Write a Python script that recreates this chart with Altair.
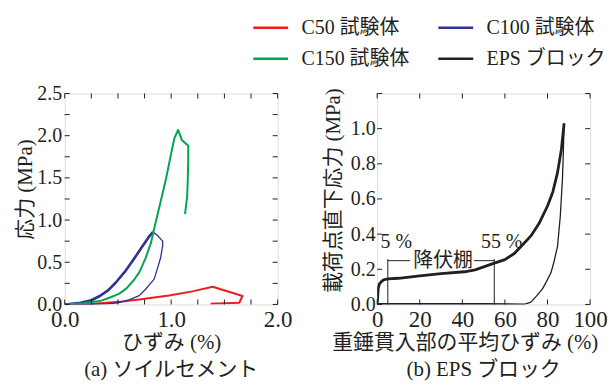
import altair as alt
import pandas as pd

FONT = "Liberation Serif, Noto Sans CJK JP"
INK = "#231f20"

series_names = ["C50 試験体", "C100 試験体", "C150 試験体", "EPS ブロック"]
series_colors = ["#ed1c24", "#2e3192", "#00a651", "#231f20"]
# legend fills column by column: C50, C150 | C100, EPS
legend_order = [0, 2, 1, 3]

# (a) soil cement, strain (%) vs stress (MPa)
c50_x = [0.0, 0.25, 0.54, 0.70, 0.98, 1.20, 1.39, 1.67, 1.64, 1.37]
c50_y = [0.0, 0.005, 0.035, 0.06, 0.105, 0.155, 0.21, 0.10, 0.02, 0.007]

c100_load_x = [0.0, 0.15, 0.25, 0.33, 0.41, 0.48, 0.56, 0.64, 0.73, 0.79, 0.83]
c100_load_y = [0.0, 0.02, 0.05, 0.10, 0.17, 0.26, 0.38, 0.52, 0.69, 0.80, 0.86]
c100_unl_x = [0.83, 0.87, 0.92, 0.92, 0.90, 0.86, 0.84, 0.80, 0.76, 0.70, 0.61, 0.50, 0.39, 0.25, 0.10]
c100_unl_y = [0.86, 0.82, 0.75, 0.69, 0.55, 0.38, 0.30, 0.24, 0.18, 0.105, 0.058, 0.02, 0.007, 0.002, 0.0]

c150_x = [0.0, 0.17, 0.33, 0.42, 0.51, 0.58, 0.65, 0.70, 0.76, 0.81, 0.85, 0.89, 0.95,
          1.00, 1.03, 1.065, 1.10, 1.16, 1.16, 1.155, 1.15, 1.13]
c150_y = [0.0, 0.015, 0.04, 0.08, 0.125, 0.19, 0.29, 0.38, 0.55, 0.73, 0.95, 1.16, 1.48,
          1.79, 1.97, 2.07, 1.95, 1.88, 1.71, 1.45, 1.28, 1.07]

# (b) EPS block, mean strain of penetrated part (%) vs stress under loading point (MPa)
eps_load_x = [0.0, 0.5, 1.0, 2.0, 3.0, 5.0, 10.0, 20.0, 30.0, 41.0, 46.0, 50.4, 55.0, 60.0,
              64.4, 68.0, 72.2, 76.0, 80.0, 82.5, 84.7, 86.5, 87.8]
eps_load_y = [0.0, 0.09, 0.115, 0.13, 0.14, 0.145, 0.149, 0.163, 0.175, 0.186, 0.197, 0.215,
              0.235, 0.255, 0.29, 0.335, 0.39, 0.46, 0.56, 0.64, 0.75, 0.88, 1.03]
eps_unl_x = [87.8, 87.4, 87.0, 86.0, 84.7, 83.0, 81.6, 79.5, 77.7, 75.0, 72.2, 69.0]
eps_unl_y = [1.03, 0.85, 0.71, 0.50, 0.33, 0.24, 0.18, 0.13, 0.09, 0.05, 0.013, 0.0]
eps_base_x = [69.0, 50.0, 30.0, 10.0, 0.0]
eps_base_y = [0.0, 0.003, 0.003, 0.003, 0.002]

# annotation values (b)
mark_x = [5, 55]
mark_top = 0.258
plateau_y = 0.249
plateau_seg_x = [5, 45.5]
plateau_seg_x2 = [15.5, 55]
ann_text = ["降伏棚", "5 %", "55 %"]
ann_x = [31.0, 9.0, 58.5]
ann_y = [0.249, 0.354, 0.354]

# tick values
a_xticks = [0.25 * i for i in range(9)]
a_yticks = [0.25 * i for i in range(11)]
b_xticks = [20 * i for i in range(6)]
b_yticks = [0.2 * i for i in range(7)]

W, H = 214, 212
TL = 5


def seg(series, part, xs, ys, w):
    return [{"series": series, "part": part, "x": x, "y": y, "i": i, "w": w}
            for i, (x, y) in enumerate(zip(xs, ys))]


color = alt.Color(
    "series:N",
    scale=alt.Scale(domain=[series_names[k] for k in legend_order],
                    range=[series_colors[k] for k in legend_order]),
    legend=alt.Legend(
        orient="none", legendX=188, legendY=-85, columns=2, title=None,
        symbolType="stroke", symbolSize=1225, symbolStrokeWidth=2.5,
        labelFont=FONT, labelFontSize=20, labelColor=INK, labelOffset=12,
        columnPadding=23, rowPadding=2, labelLimit=300,
    ),
)


def axis(values, expr, title, lsize, lpad, tpad, tx=None, ty=None):
    kw = dict(
        values=values, labelExpr=expr, ticks=False, domain=False, grid=False,
        labelFont="Liberation Serif", labelFontSize=lsize, labelColor=INK, labelPadding=lpad,
        labelFlush=False, labelOverlap=False,
        title=title, titleFont=FONT, titleFontSize=21, titleFontWeight="normal",
        titleColor=INK, titlePadding=tpad,
    )
    if tx is not None:
        kw["titleX"] = tx
    if ty is not None:
        kw["titleY"] = ty
    return alt.Axis(**kw)


def ticks(xvals, yvals, xs, ys, xax, yax):
    dx = pd.DataFrame({"v": xvals})
    dy = pd.DataFrame({"v": yvals})
    bx = alt.X("v:Q", scale=xs, axis=xax)
    by = alt.Y("v:Q", scale=ys, axis=yax)
    r = dict(color=INK, strokeWidth=1)
    return [
        alt.Chart(dx).mark_rule(**r).encode(x=bx, y=alt.value(H), y2=alt.value(H - TL)),
        alt.Chart(dx).mark_rule(**r).encode(x=bx, y=alt.value(0), y2=alt.value(TL)),
        alt.Chart(dy).mark_rule(**r).encode(y=by, x=alt.value(0), x2=alt.value(TL)),
        alt.Chart(dy).mark_rule(**r).encode(y=by, x=alt.value(W), x2=alt.value(W - TL)),
    ]


def caption(text):
    return alt.TitleParams(text, orient="bottom", font=FONT, fontSize=21,
                           fontWeight="normal", color=INK, offset=7)


# ---- panel (a)
a_df = pd.DataFrame(
    seg(series_names[0], "c50", c50_x, c50_y, 2.0)
    + seg(series_names[1], "c100a", c100_load_x, c100_load_y, 2.6)
    + seg(series_names[1], "c100b", c100_unl_x, c100_unl_y, 1.3)
    + seg(series_names[2], "c150", c150_x, c150_y, 2.0)
)
ax_s = alt.Scale(domain=[0, 2], nice=False, zero=False)
ay_s = alt.Scale(domain=[0, 2.5], nice=False, zero=False)
a_xax = axis(a_xticks, "datum.value % 1 == 0 ? format(datum.value, '.1f') : ''",
             "ひずみ (%)", 23, 4, 0)
a_yax = axis(a_yticks, "datum.value % 0.5 == 0 ? format(datum.value, '.1f') : ''",
             "応力 (MPa)", 20, 3, 1, None, 96)
a_lines = alt.Chart(a_df).mark_line(strokeJoin="round", clip=True).encode(
    x=alt.X("x:Q", scale=ax_s, axis=a_xax),
    y=alt.Y("y:Q", scale=ay_s, axis=a_yax),
    color=color, detail="part:N", order="i:Q",
    strokeWidth=alt.StrokeWidth("w:Q", scale=None),
)
panel_a = alt.layer(a_lines, *ticks(a_xticks, a_yticks, ax_s, ay_s, a_xax, a_yax)).properties(
    width=W, height=H, title=caption("(a) ソイルセメント"),
)

# ---- panel (b)
b_df = pd.DataFrame(
    seg(series_names[3], "load", eps_load_x, eps_load_y, 2.8)
    + seg(series_names[3], "unl", eps_unl_x, eps_unl_y, 1.3)
    + seg(series_names[3], "base", eps_base_x, eps_base_y, 2.0)
)
bx_s = alt.Scale(domain=[0, 100], nice=False, zero=False)
by_s = alt.Scale(domain=[0, 1.2], nice=False, zero=False)
b_xax = axis(b_xticks, "format(datum.value, 'd')", "重錘貫入部の平均ひずみ (%)", 23, 4, 0, 88)
b_yax = axis(b_yticks, "format(datum.value, '.1f')", "載荷点直下応力 (MPa)", 20, 2, 7, None, 97)
b_lines = alt.Chart(b_df).mark_line(strokeJoin="round", clip=True).encode(
    x=alt.X("x:Q", scale=bx_s, axis=b_xax),
    y=alt.Y("y:Q", scale=by_s, axis=b_yax),
    color=color, detail="part:N", order="i:Q",
    strokeWidth=alt.StrokeWidth("w:Q", scale=None),
)
b_vr = alt.Chart(pd.DataFrame({"x": mark_x, "y": [0, 0], "y2": [mark_top, mark_top]})).mark_rule(
    color=INK, strokeWidth=1).encode(
    x=alt.X("x:Q", scale=bx_s, axis=b_xax), y=alt.Y("y:Q", scale=by_s, axis=b_yax), y2="y2:Q")
b_hr = alt.Chart(pd.DataFrame({"x": plateau_seg_x, "x2": plateau_seg_x2,
                               "y": [plateau_y, plateau_y]})).mark_rule(
    color=INK, strokeWidth=1).encode(
    x=alt.X("x:Q", scale=bx_s, axis=b_xax), x2="x2:Q", y=alt.Y("y:Q", scale=by_s, axis=b_yax))
b_txt = alt.Chart(pd.DataFrame({"x": ann_x, "y": ann_y, "t": ann_text})).mark_text(
    font=FONT, fontSize=20, color=INK, align="center", baseline="middle").encode(
    x=alt.X("x:Q", scale=bx_s, axis=b_xax), y=alt.Y("y:Q", scale=by_s, axis=b_yax), text="t:N")
panel_b = alt.layer(b_lines, b_vr, b_hr, b_txt,
                    *ticks(b_xticks, b_yticks, bx_s, by_s, b_xax, b_yax)).properties(
    width=W, height=H, title=caption("(b) EPS ブロック"),
)

chart = alt.hconcat(panel_a, panel_b, spacing=100, bounds="flush").resolve_scale(
    color="shared"
).properties(
    padding={"left": 6, "top": 0, "right": 0, "bottom": 0}
).configure_view(stroke=INK, strokeWidth=1.2).configure(background="white")

chart.save("out.html", embed_options={"renderer": "svg", "actions": False})
